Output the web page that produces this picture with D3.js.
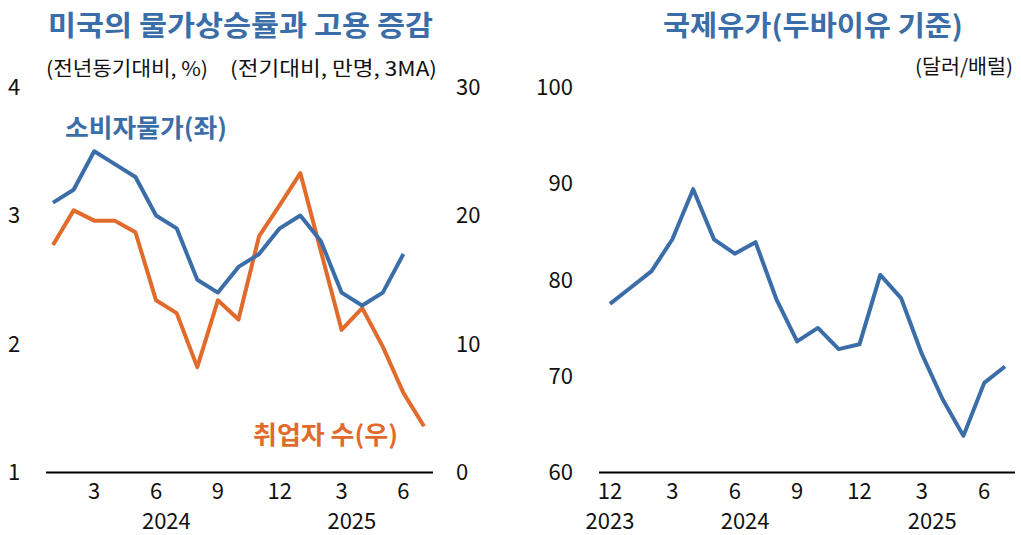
<!DOCTYPE html>
<html>
<head>
<meta charset="utf-8">
<script src="https://cdn.jsdelivr.net/npm/d3@7"></script>
<style>
  body { margin: 0; background: #fff; }
  svg { display: block; font-family: "Noto Sans CJK KR", "Noto Sans", sans-serif; }
</style>
</head>
<body>
<svg id="chart" width="1021" height="535"></svg>
<script>
// left panel: Jan 2024 ~ Jul 2025
const usMonths = ["2024-01","2024-02","2024-03","2024-04","2024-05","2024-06","2024-07","2024-08","2024-09","2024-10","2024-11","2024-12",
  "2025-01","2025-02","2025-03","2025-04","2025-05","2025-06","2025-07"];
const cpi = [3.1, 3.2, 3.5, 3.4, 3.3, 3.0, 2.9, 2.5, 2.4, 2.6, 2.7, 2.9, 3.0, 2.8, 2.4, 2.3, 2.4, 2.7, null];
const jobs = [17.7, 20.4, 19.6, 19.6, 18.7, 13.4, 12.4, 8.2, 13.4, 11.9, 18.4, 20.8, 23.3, 17.2, 11.1, 12.8, 9.8, 6.2, 3.6];
const usMonthTicks = [[2, "3"], [5, "6"], [8, "9"], [11, "12"], [14, "3"], [17, "6"]];
const usYearTicks = [[5.5, "2024"], [14.5, "2025"]];
const cpiTicks = [1, 2, 3, 4];
const jobsTicks = [0, 10, 20, 30];

// right panel: Dec 2023 ~ Jul 2025
const oilMonths = ["2023-12","2024-01","2024-02","2024-03","2024-04","2024-05","2024-06","2024-07","2024-08","2024-09","2024-10","2024-11","2024-12",
  "2025-01","2025-02","2025-03","2025-04","2025-05","2025-06","2025-07"];
const dubai = [77.5, 79.2, 80.9, 84.2, 89.4, 84.2, 82.7, 83.9, 78.0, 73.6, 75.0, 72.8, 73.3, 80.5, 78.1, 72.3, 67.6, 63.8, 69.3, 71.0];
const oilMonthTicks = [[0, "12"], [3, "3"], [6, "6"], [9, "9"], [12, "12"], [15, "3"], [18, "6"]];
const oilYearTicks = [[0, "2023"], [6.5, "2024"], [15.5, "2025"]];
const oilTicks = [60, 70, 80, 90, 100];

const BLUE = "#3b6ea8", ORANGE = "#e06b2b";

const svg = d3.select("#chart");
const baseY = 472.5, topY = 87;

// fitted text helper (width)
function label(x, y, txt, size, opts) {
  opts = opts || {};
  const t = svg.append("text").attr("x", x).attr("y", y)
    .attr("font-size", size).attr("fill", opts.fill || "#111")
    .attr("text-anchor", opts.anchor || "start")
    .text(txt);
  if (opts.bold) t.attr("font-weight", "bold");
  if (opts.len) t.attr("textLength", opts.len).attr("lengthAdjust", "spacingAndGlyphs");
  return t;
}

function drawPanel(opt) {
  const g = svg.append("g");
  const x = d3.scaleLinear().domain([0, opt.n - 1]).range(opt.xr);

  // axis line
  g.append("line")
    .attr("x1", opt.axis[0]).attr("x2", opt.axis[1])
    .attr("y1", baseY).attr("y2", baseY)
    .attr("stroke", "#000").attr("stroke-width", 2);

  g.selectAll(".mt").data(opt.monthTicks).enter().append("text")
    .attr("x", d => x(d[0])).attr("y", 499)
    .attr("text-anchor", "middle").attr("font-size", 22).attr("fill", "#111")
    .text(d => d[1]);
  g.selectAll(".yt").data(opt.yearTicks).enter().append("text")
    .attr("x", d => x(d[0])).attr("y", 529)
    .attr("text-anchor", "middle").attr("font-size", 22).attr("fill", "#111")
    .text(d => d[1]);
  return x;
}

// ---------- left panel ----------
const xl = drawPanel({n: usMonths.length, xr: [53, 424], axis: [46, 433],
  monthTicks: usMonthTicks, yearTicks: usYearTicks});
const yCpi = d3.scaleLinear().domain([1, 4]).range([baseY, topY]);
const yJobs = d3.scaleLinear().domain([0, 30]).range([baseY, topY]);

svg.selectAll(".lt").data(cpiTicks).enter().append("text")
  .attr("x", 14).attr("y", d => yCpi(d)).attr("dy", "0.36em")
  .attr("text-anchor", "middle").attr("font-size", 22).attr("fill", "#111")
  .text(d => d);
svg.selectAll(".rt").data(jobsTicks).enter().append("text")
  .attr("x", 456).attr("y", d => yJobs(d)).attr("dy", "0.36em")
  .attr("text-anchor", "start").attr("font-size", 22).attr("fill", "#111")
  .text(d => d);

svg.append("path")
  .datum(jobs)
  .attr("fill", "none").attr("stroke", ORANGE).attr("stroke-width", 4)
  .attr("stroke-linejoin", "round")
  .attr("d", d3.line().defined(d => d != null).x((d, i) => xl(i)).y(d => yJobs(d)));
svg.append("path")
  .datum(cpi)
  .attr("fill", "none").attr("stroke", BLUE).attr("stroke-width", 4)
  .attr("stroke-linejoin", "round")
  .attr("d", d3.line().defined(d => d != null).x((d, i) => xl(i)).y(d => yCpi(d)));

label(48, 36, "미국의 물가상승률과  고용  증감", 28, {fill: BLUE, bold: true, len: 385});
label(46, 76, "(전년동기대비, %)", 20, {len: 162});
label(230, 76, "(전기대비, 만명, 3MA)", 20, {len: 207});
label(65, 137, "소비자물가(좌)", 25, {fill: BLUE, bold: true, len: 162});
label(253, 444, "취업자 수(우)", 25, {fill: ORANGE, bold: true, len: 145});

// ---------- right panel ----------
const xr = drawPanel({n: oilMonths.length, xr: [610, 1005], axis: [599, 1015],
  monthTicks: oilMonthTicks, yearTicks: oilYearTicks});
const yOil = d3.scaleLinear().domain([60, 100]).range([baseY, topY]);

svg.selectAll(".ot").data(oilTicks).enter().append("text")
  .attr("x", 573).attr("y", d => yOil(d)).attr("dy", "0.36em")
  .attr("text-anchor", "end").attr("font-size", 22).attr("fill", "#111")
  .text(d => d);

svg.append("path")
  .datum(dubai)
  .attr("fill", "none").attr("stroke", BLUE).attr("stroke-width", 4)
  .attr("stroke-linejoin", "round")
  .attr("d", d3.line().x((d, i) => xr(i)).y(d => yOil(d)));

label(663, 36, "국제유가(두바이유  기준)", 28, {fill: BLUE, bold: true, len: 300});
label(915, 74, "(달러/배럴)", 20, {len: 98});
</script>
</body>
</html>
